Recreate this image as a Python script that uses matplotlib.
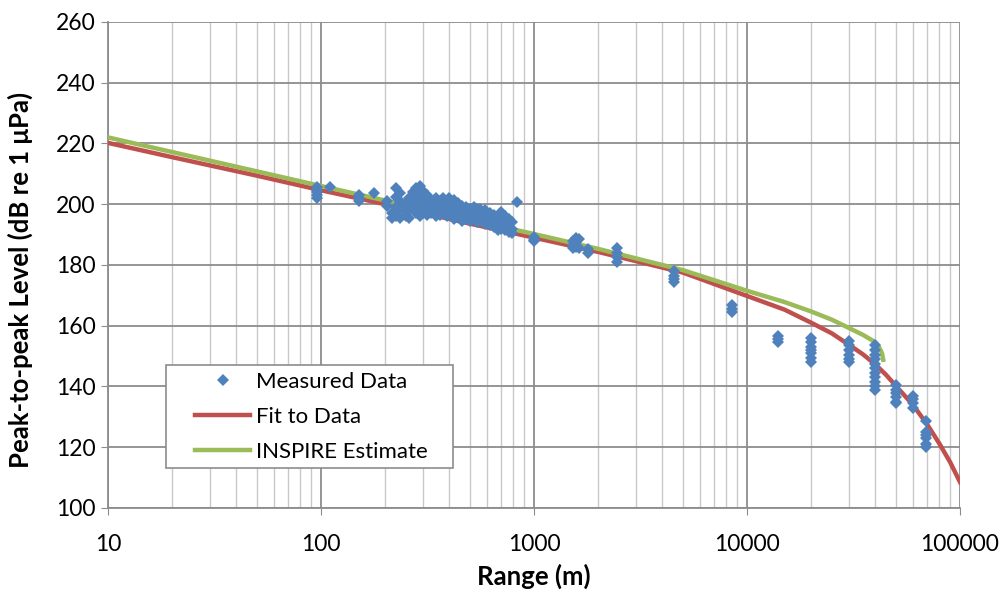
import numpy as np
import matplotlib.pyplot as plt
from matplotlib.patches import Rectangle
from matplotlib.ticker import LogLocator, FixedLocator, NullFormatter

plt.rcParams['font.family'] = ['Lato', 'DejaVu Sans']

# measured data: range (m) -> levels (dB)
meas_groups = [
    (96, [205.8, 204.8, 204.0, 203.0, 202.2]),
    (110, [205.6]),
    (150, [203.2, 202.0, 201.2]),
    (178, [203.6]),
    (205, [201.0, 199.5]),
    (215, [195.5, 197.0]),
    (225, [205.2, 202.5, 199.0, 196.0]),
    (235, [203.8, 201.0, 198.5, 195.5]),
    (250, [200.5, 197.5, 196.0]),
    (260, [202.0, 199.5, 195.5]),
    (270, [204.0, 201.5, 198.5]),
    (280, [205.5, 203.0, 200.5, 197.0]),
    (290, [206.0, 204.0, 201.0, 198.0, 196.0]),
    (300, [204.5, 202.0, 199.5, 197.0]),
    (315, [203.0, 200.5, 198.0, 196.5]),
    (330, [201.5, 199.0, 197.0]),
    (345, [202.0, 200.0, 197.5, 196.0]),
    (360, [201.0, 198.5, 196.5]),
    (375, [202.0, 199.5, 197.5]),
    (390, [200.5, 198.0, 196.0]),
    (400, [202.0, 199.5, 197.0]),
    (420, [201.5, 199.0, 196.5, 195.0]),
    (440, [200.5, 198.0, 196.0]),
    (460, [199.5, 197.5, 195.5, 194.5]),
    (480, [199.0, 197.0, 195.0]),
    (500, [198.5, 196.5, 194.5]),
    (520, [199.0, 197.0, 195.0]),
    (540, [198.5, 196.0, 194.0]),
    (560, [198.5, 196.5, 194.5]),
    (590, [198.0, 195.5, 193.5]),
    (620, [197.0, 195.0, 193.0]),
    (650, [196.5, 194.5, 192.5]),
    (680, [195.0, 193.0, 191.5]),
    (700, [197.5, 194.0, 192.0]),
    (730, [196.0, 193.5, 191.5]),
    (760, [195.0, 192.5, 191.0]),
    (790, [194.0, 192.0, 190.5]),
    (830, [200.8]),
    (1000, [189.2, 188.3, 187.8]),
    (1520, [188.0, 186.5, 185.5]),
    (1580, [189.0, 187.5, 186.0]),
    (1620, [188.5, 185.5]),
    (1800, [185.3, 184.0]),
    (2450, [185.5, 184.0, 182.5, 181.0]),
    (4550, [178.0, 176.5, 175.5, 174.5]),
    (8500, [166.8, 165.5, 164.5]),
    (14000, [156.5, 155.5, 154.5]),
    (20000, [156.0, 154.5, 153.0, 152.0, 151.0, 149.5, 148.0]),
    (30000, [155.0, 153.5, 152.0, 150.5, 149.0, 148.0]),
    (40000, [153.5, 152.0, 150.5, 149.0, 147.5, 146.0, 144.5, 143.0, 141.5, 140.0, 139.0]),
    (50000, [140.5, 139.0, 138.0, 136.5, 135.0, 134.5]),
    (60000, [137.0, 136.0, 134.5, 133.0]),
    (69000, [128.5, 125.0, 124.0, 123.0, 121.0, 120.0]),
]
meas_r = [r for r, levels in meas_groups for _ in levels]
meas_db = [v for r, levels in meas_groups for v in levels]

# fit to data
fit_r = [10, 20, 50, 100, 200, 500, 1000, 2000, 5000, 10000, 15000, 20000,
         25000, 30000, 35000, 40000, 45000, 50000, 60000, 70000, 80000, 90000, 100000]
fit_db = [220.2, 215.5, 209.4, 204.6, 200.0, 193.6, 189.0, 184.3, 177.5, 169.8, 165.3, 161.0,
          157.5, 153.8, 150.6, 147.3, 143.8, 140.2, 134.0, 127.6, 121.2, 115.0, 108.5]

# INSPIRE estimate
insp_r = [10, 100, 1000, 2000, 5000, 10000, 15000, 20000, 25000, 30000, 35000,
          40000, 41500, 43000, 43600]
insp_db = [222.0, 206.0, 190.2, 185.3, 178.3, 171.5, 167.8, 164.7, 162.0, 159.3, 157.0,
           154.6, 153.2, 151.0, 148.8]

fig = plt.figure(figsize=(10.02, 5.94), dpi=100)
ax = fig.add_axes([0.1078, 0.1448, 0.8503, 0.8182])

ax.plot(fit_r, fit_db, color='#C0504D', lw=3.2, label='Fit to Data', zorder=3)
ax.plot(insp_r, insp_db, color='#9BBB59', lw=3.2, label='INSPIRE Estimate', zorder=4)
ax.plot(meas_r, meas_db, 'D', color='#4F81BD', ms=6.5, mew=0, ls='none',
        label='Measured Data', zorder=5)

ax.set_xscale('log')
ax.set_xlim(10, 100000)
ax.set_ylim(100, 260)
ax.yaxis.set_major_locator(FixedLocator(np.arange(100, 261, 20)))
ax.xaxis.set_major_locator(FixedLocator([10, 100, 1000, 10000, 100000]))
ax.set_xticklabels(['10', '100', '1000', '10000', '100000'])
ax.xaxis.set_minor_locator(LogLocator(base=10, subs=np.arange(2, 10)))
ax.xaxis.set_minor_formatter(NullFormatter())

ax.grid(which='major', color='#8c8c8c', lw=1.3)
ax.grid(which='minor', axis='x', color='#c8c8c8', lw=1.0)
ax.set_axisbelow(True)

for s in ['top', 'right']:
    ax.spines[s].set_visible(False)
for s in ['left', 'bottom']:
    ax.spines[s].set_color('#8c8c8c')
    ax.spines[s].set_linewidth(1.3)
ax.tick_params(which='major', direction='out', length=5, color='#8c8c8c',
               labelsize=16.5, pad=4)
ax.tick_params(which='minor', length=0)
ax.tick_params(axis='x', pad=14)

ax.set_xlabel('Range (m)', fontsize=18.5, fontweight='bold', labelpad=6)
ax.set_ylabel('Peak-to-peak Level (dB re 1 μPa)', fontsize=18.5, fontweight='bold')
ax.yaxis.set_label_coords(-0.088, 0.47)

# legend box
ax.add_patch(Rectangle((0.068, 0.0823), 0.337, 0.2117, transform=ax.transAxes,
                       facecolor='white', edgecolor='#8c8c8c', lw=1.2, zorder=6))
h, l = ax.get_legend_handles_labels()
order = [2, 0, 1]
leg = ax.legend([h[i] for i in order], [l[i] for i in order],
                loc='center left', bbox_to_anchor=(0.102, 0.188),
                fontsize=16, frameon=False, handlelength=2.5, handletextpad=0.25,
                borderpad=0, labelspacing=0.68, borderaxespad=0)
leg.set_zorder(7)

fig.savefig('out.png', dpi=100)
